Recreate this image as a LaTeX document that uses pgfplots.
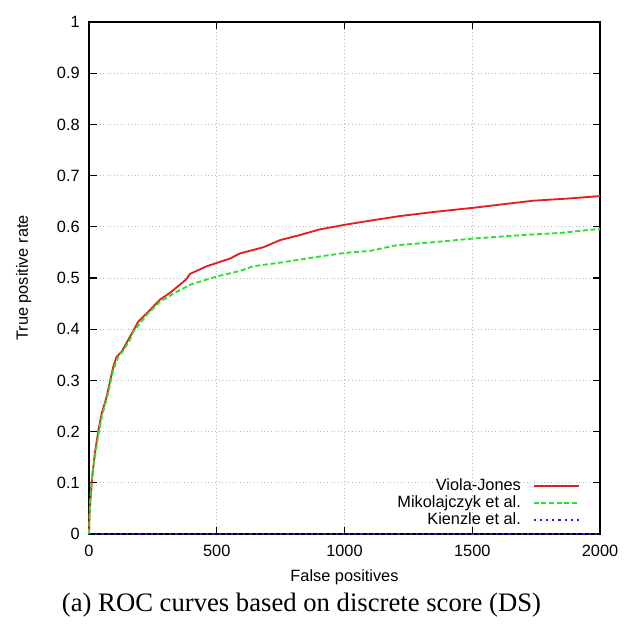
\documentclass[border=0pt]{standalone}
\usepackage{fontspec}
\setmainfont{Liberation Serif}
\setsansfont{Liberation Sans}
\usepackage{pgfplots}
\pgfplotsset{compat=1.18}

\definecolor{vjred}{RGB}{228,30,30}
\definecolor{mkgreen}{RGB}{40,225,40}
\definecolor{kzblue}{RGB}{30,30,220}

\newcommand{\plotfont}{\sffamily\fontsize{9.8pt}{10.2pt}\selectfont}

\begin{document}
\begin{tikzpicture}
% overall picture frame: axis box from (0,0) to (306.6pt,307.2pt)
\useasboundingbox (-53.4pt,-54.6pt) rectangle (322.8pt,320.4pt);
\begin{axis}[
  at={(0,0)}, anchor=south west,
  scale only axis,
  width=306.6pt, height=307.2pt,
  xmin=0, xmax=2000, ymin=0, ymax=1,
  xtick={0,500,1000,1500,2000},
  ytick={0,0.1,0.2,0.3,0.4,0.5,0.6,0.7,0.8,0.9,1},
  tick pos=both,
  tick align=inside,
  major tick length=4.5pt,
  every tick/.style={black, line width=0.7pt},
  axis line style={black, line width=0.8pt},
  grid=major,
  major grid style={gray!55, line width=0.45pt, dash pattern=on 0.6pt off 1.5pt},
  /pgf/number format/assume math mode=true,
  /pgf/number format/1000 sep={},
  ticklabel style={font=\plotfont},
  xticklabel style={anchor=base, yshift=-13.4pt},
  yticklabel style={anchor=east, inner sep=0pt, xshift=-5.4pt},
  clip=false,
  legend plot pos=right,
  legend cell align=right,
  legend style={draw=none, fill=none, inner sep=0pt,
    at={(axis cs:1922,0.012)}, anchor=south east,
    font=\plotfont, row sep=1.2pt, column sep=7.2pt,
    nodes={inner sep=0pt, text height=7pt, text depth=2pt}},
  legend image code/.code={\draw[#1] (0pt,0pt) -- (27pt,0pt);},
]
% Viola-Jones
\addplot[vjred, line width=1.1pt] coordinates {
(0,0) (2,0.04) (6.5,0.073) (14,0.118) (23,0.158) (37,0.203) (50,0.236)
(69,0.268) (95,0.327) (108,0.346) (128,0.356) (160,0.385) (193,0.415)
(232,0.434) (278,0.458) (317,0.471) (363,0.490) (380,0.497) (395,0.508)
(461,0.523) (552,0.538) (591,0.548) (682,0.560) (748,0.574) (826,0.584)
(904,0.595) (1002,0.604) (1100,0.612) (1217,0.621) (1350,0.629)
(1502,0.637) (1620,0.644) (1739,0.651) (1870,0.655) (2000,0.660)
};
\addlegendentry{Viola-Jones}
% Mikolajczyk et al.
\addplot[mkgreen, line width=1.1pt, dash pattern=on 3pt off 1.6pt] coordinates {
(0,0) (2,0.035) (5,0.07) (12,0.115) (23,0.15) (37,0.195) (50,0.229)
(70,0.265) (95,0.320) (114,0.346) (130,0.355) (160,0.379) (173,0.395)
(226,0.428) (278,0.454) (343,0.473) (402,0.488) (500,0.503) (591,0.514)
(643,0.523) (748,0.530) (826,0.536) (904,0.542) (1002,0.549) (1100,0.553)
(1204,0.564) (1350,0.570) (1502,0.577) (1700,0.584) (1843,0.588) (2000,0.596)
};
\addlegendentry{Mikolajczyk et al.}
% Kienzle et al.
\addplot[kzblue, line width=1.0pt, dash pattern=on 1.3pt off 2.4pt] coordinates {
(0,0) (500,0) (1000,0) (1500,0) (2000,0)
};
\addlegendentry{Kienzle et al.}
\end{axis}
\node[font=\plotfont, rotate=90, anchor=base] at (-36.6pt,153.6pt) {True positive rate};
\node[font=\plotfont, anchor=base] at (153.3pt,-28.6pt) {False positives};
\node[font=\fontsize{16pt}{18pt}\selectfont, anchor=base] at (127.5pt,-46.6pt)
  {(a) ROC curves based on discrete score (DS)};
\end{tikzpicture}
\end{document}
